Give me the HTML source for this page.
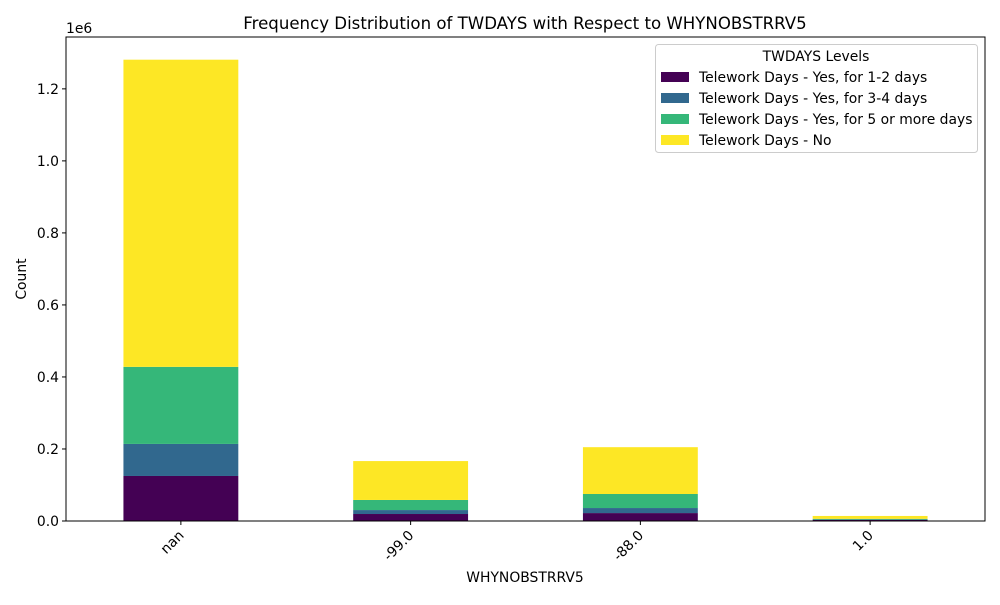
<!DOCTYPE html>
<html><head><meta charset="utf-8"><style>body{margin:0;background:#fff}svg{font-family:"DejaVu Sans","Liberation Sans",sans-serif}</style></head>
<body>
<svg id="chart" width="1000" height="600" xmlns="http://www.w3.org/2000/svg">
<rect width="1000" height="600" fill="#fff"/>
<text x="525" y="29" font-size="16.6" text-anchor="middle">Frequency Distribution of TWDAYS with Respect to WHYNOBSTRRV5</text>
<text x="66" y="33" font-size="13.9">1e6</text>
<g id="bars"></g>
<g id="axes"></g>
<text x="525" y="582" font-size="13.9" text-anchor="middle">WHYNOBSTRRV5</text>
<text x="26" y="279" font-size="13.9" text-anchor="middle" transform="rotate(-90 26 279)">Count</text>
<g>
<rect x="655.5" y="44.5" width="322" height="108" fill="#fff" stroke="#ccc" rx="3"/>
<text x="816" y="61" font-size="13.9" text-anchor="middle">TWDAYS Levels</text>
<g id="legend-items"></g>
</g>
</svg>
<script>
const categories = ["nan", "-99.0", "-88.0", "1.0"];
const series12 = [0.125, 0.0194, 0.022, 0.003];
const series34 = [0.089, 0.011, 0.014, 0.001];
const series5 = [0.214, 0.028, 0.039, 0.002];
const seriesNo = [0.853, 0.108, 0.130, 0.008];
const seriesNames = ["Telework Days - Yes, for 1-2 days","Telework Days - Yes, for 3-4 days","Telework Days - Yes, for 5 or more days","Telework Days - No"];
const yTicks = [0, 0.2, 0.4, 0.6, 0.8, 1.0, 1.2];
const colors = ["#440154","#31688e","#35b779","#fde725"];
const NS = "http://www.w3.org/2000/svg";
const L=66,R=985,T=37,B=521;
const yMax=1.344;
const y = v => B - v/yMax*(B-T);
const step=(R-L)/categories.length;
const xc = i => L + step*(i+0.5);
const bw = step*0.5;
function mk(tag, attrs, parent){const e=document.createElementNS(NS,tag);for(const k in attrs)e.setAttribute(k,attrs[k]);parent.appendChild(e);return e;}
const bars=document.getElementById('bars');
const allSeries=[series12,series34,series5,seriesNo];
const keys=["1-2-days","3-4-days","5-plus-days","no"];
categories.forEach((c,i)=>{
  let base=0;
  allSeries.forEach((s,j)=>{
    const r=mk('rect',{x:xc(i)-bw/2,y:y(base+s[i]),width:bw,height:y(base)-y(base+s[i]),fill:colors[j]},bars);
    
    
    base+=s[i];
  });
});
const ax=document.getElementById('axes');
mk('rect',{x:L,y:T,width:R-L,height:B-T,fill:'none',stroke:'#000','stroke-width':1},ax);
yTicks.forEach(t=>{
  mk('line',{x1:L-4,x2:L,y1:y(t),y2:y(t),stroke:'#000'},ax);
  const tx=mk('text',{x:L-7,y:y(t)+5,'font-size':13.9,'text-anchor':'end'},ax);
  tx.textContent=t.toFixed(1);
  
  
});
categories.forEach((c,i)=>{
  mk('line',{x1:xc(i),x2:xc(i),y1:B,y2:B+4,stroke:'#000'},ax);
  const tx=mk('text',{x:xc(i)+3,y:B+13,'font-size':13.9,'text-anchor':'end',transform:`rotate(-45 ${xc(i)+6} ${B+13})`},ax);
  tx.textContent=c;
  
  
});
const lg=document.getElementById('legend-items');
seriesNames.forEach((n,j)=>{
  const yy=77+j*21;
  const r=mk('rect',{x:661,y:yy-5,width:28,height:10,fill:colors[j]},lg);
  
  
  const t=mk('text',{x:699,y:yy+5,'font-size':13.9},lg);
  t.textContent=n;
  
  
});
</script>
</body></html>
